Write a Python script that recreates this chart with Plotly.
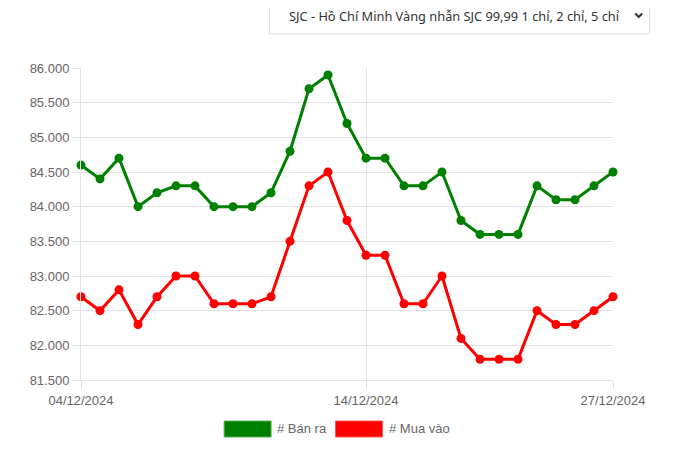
import plotly.graph_objects as go

# gold price (thousand VND / chỉ), one entry per update
idx = list(range(29))
tick_pos = [0, 15, 28]
tick_labels = ['04/12/2024', '14/12/2024', '27/12/2024']

ban_ra = [84600, 84400, 84700, 84000, 84200, 84300, 84300, 84000, 84000, 84000,
          84200, 84800, 85700, 85900, 85200, 84700, 84700, 84300, 84300, 84500,
          83800, 83600, 83600, 83600, 84300, 84100, 84100, 84300, 84500]
mua_vao = [82700, 82500, 82800, 82300, 82700, 83000, 83000, 82600, 82600, 82600,
           82700, 83500, 84300, 84500, 83800, 83300, 83300, 82600, 82600, 83000,
           82100, 81800, 81800, 81800, 82500, 82300, 82300, 82500, 82700]

# page body has an 8px margin, so the figure starts at (8, 8) on screen
OFF = 8
W, H = 674 - OFF, 449 - OFF
L, R, T, B = 80.7, 613.3, 68, 380   # plot area in screen pixels


def px(x):  # screen pixel -> paper x
    return (x - L) / (R - L)


def py(y):  # screen pixel -> paper y
    return (B - y) / (B - T)


fig = go.Figure()
fig.add_trace(go.Scatter(
    x=idx, y=ban_ra, name='# Bán ra', mode='lines+markers',
    line=dict(color='#008000', width=3), marker=dict(size=9, color='#008000'),
    cliponaxis=False))
fig.add_trace(go.Scatter(
    x=idx, y=mua_vao, name='# Mua vào', mode='lines+markers',
    line=dict(color='#ff0000', width=3), marker=dict(size=9, color='#ff0000'),
    cliponaxis=False))

grid = '#e3e3e3'
shapes = []
# outer card border
shapes.append(dict(type='line', xref='paper', yref='paper', x0=px(3), x1=px(3), y0=py(0), y1=py(455),
                   line=dict(color='#e6e6e6', width=1)))
shapes.append(dict(type='line', xref='paper', yref='paper', x0=px(668), x1=px(668), y0=py(0), y1=py(455),
                   line=dict(color='#e6e6e6', width=1)))
# dropdown box
shapes.append(dict(type='rect', xref='paper', yref='paper', x0=px(269.5), x1=px(650), y0=py(-2), y1=py(34),
                   line=dict(color='#dedede', width=1), fillcolor='white'))
# chevron
shapes.append(dict(type='path', xref='paper', yref='paper',
                   path='M %f,%f L %f,%f L %f,%f' % (px(635.5), py(13.5), px(639), py(17), px(642.5), py(13.5)),
                   line=dict(color='#333', width=2)))
# legend boxes
shapes.append(dict(type='rect', xref='paper', yref='paper', x0=px(224), x1=px(271), y0=py(421), y1=py(437),
                   line=dict(color='#55b055', width=1), fillcolor='#008000'))
shapes.append(dict(type='rect', xref='paper', yref='paper', x0=px(335.5), x1=px(382.5), y0=py(421), y1=py(437),
                   line=dict(color='#ff5555', width=1), fillcolor='#ff0000'))

annotations = [
    dict(text='SJC - Hồ Chí Minh Vàng nhẫn SJC 99,99 1 chỉ, 2 chỉ, 5 chỉ', xref='paper', yref='paper',
         x=px(287), y=py(16.5), xanchor='left', yanchor='middle', showarrow=False,
         font=dict(family='Noto Sans', size=12.8, color='#333')),
    dict(text='# Bán ra', xref='paper', yref='paper', x=px(275), y=py(429), xanchor='left', yanchor='middle',
         showarrow=False, font=dict(family='Liberation Sans', size=13, color='#666')),
    dict(text='# Mua vào', xref='paper', yref='paper', x=px(387), y=py(429), xanchor='left', yanchor='middle',
         showarrow=False, font=dict(family='Liberation Sans', size=13, color='#666')),
]

fig.update_layout(
    width=W, height=H,
    margin=dict(l=L - OFF, r=W - (R - OFF), t=T - OFF, b=H - (B - OFF)),
    paper_bgcolor='white', plot_bgcolor='white',
    showlegend=False,
    separators=',.',
    font=dict(family='Liberation Sans', size=13, color='#666'),
    shapes=shapes, annotations=annotations,
    xaxis=dict(range=[0, 28], tickvals=tick_pos, ticktext=tick_labels, showgrid=True, gridcolor=grid,
               zeroline=False, ticks='outside', ticklen=8, tickcolor=grid, showline=True, linecolor=grid,
               mirror=False, tickfont=dict(size=13, color='#666')),
    yaxis=dict(range=[81500, 86000], dtick=500, tickformat=',d', showgrid=True, gridcolor=grid,
               zeroline=False, ticks='outside', ticklen=8, tickcolor=grid, showline=True, linecolor=grid,
               tickfont=dict(size=13, color='#666')),
)

fig.write_html('out.html')
